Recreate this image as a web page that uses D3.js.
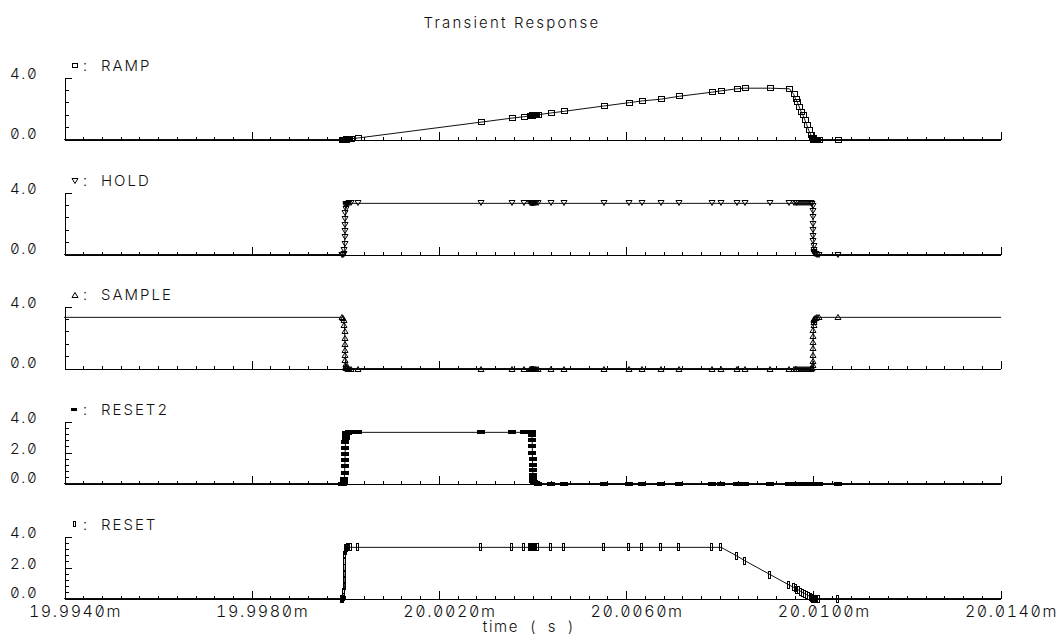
<!DOCTYPE html>
<html lang="en">

<head>
    <meta charset="utf-8">
    <title>Transient Response</title>
    <script type="text/javascript" src="https://cdn.jsdelivr.net/npm/d3@7"></script>
    <style type="text/css">
        body {
            margin: 0;
            background: #fff;
        }

        text {
            font-family: Inter, "DejaVu Sans", sans-serif;
            font-weight: 300;
            font-variant-numeric: slashed-zero tabular-nums;
            fill: #111;
        }
    </style>
</head>

<body>
    <script type="text/javascript">

        var w = 1057;
        var h = 642;

        // simulation time points (ms)
        var time = [
            19.9935,
            19.99994, 19.99996, 19.99997, 19.99998, 19.999985, 19.99999, 19.999993, 19.999996, 20.0,
            20.000003, 20.000006, 20.00001, 20.000015, 20.00002, 20.00003, 20.00005, 20.00008, 20.00012,
            20.00028, 20.0029, 20.00356, 20.00382,
            20.00394, 20.00396, 20.00398, 20.003985, 20.00399, 20.003993, 20.003996, 20.003998, 20.004,
            20.004003, 20.004006, 20.00401, 20.004015, 20.00402, 20.00403, 20.00405, 20.00408, 20.00412,
            20.00439, 20.00468, 20.00552, 20.00607, 20.00635, 20.00674, 20.00714, 20.00783, 20.00803,
            20.00837, 20.00853, 20.00908, 20.00949,
            20.00958, 20.00962, 20.00966, 20.0097, 20.00974, 20.00978, 20.00982, 20.00986, 20.0099, 20.00995,
            20.00998, 20.009985, 20.00999, 20.009993, 20.009996, 20.009998, 20.01,
            20.010003, 20.010006, 20.01001, 20.010015, 20.01002, 20.01003, 20.01005, 20.01008, 20.01012,
            20.01053, 20.0145
        ];

        var ramp = [
            0,
            0, 0, 0, 0, 0, 0, 0, 0, 0,
            0, 0, 0, 0.01, 0.01, 0.01, 0.02, 0.03, 0.05,
            0.10, 1.12, 1.38, 1.47,
            1.53, 1.53, 1.54, 1.54, 1.54, 1.54, 1.55, 1.55, 1.55,
            1.55, 1.55, 1.55, 1.56, 1.56, 1.56, 1.57, 1.58, 1.60,
            1.71, 1.82, 2.16, 2.38, 2.49, 2.60, 2.79, 3.05, 3.14,
            3.27, 3.31, 3.31, 3.27,
            2.92, 2.62, 2.40, 2.10, 1.80, 1.55, 1.25, 0.95, 0.60, 0.28,
            0.12, 0.08, 0.05, 0.03, 0.02, 0.01, 0,
            0, 0, 0, 0, 0, 0, 0, 0, 0,
            0, 0
        ];

        var hold = [
            0,
            0, 0, 0.05, 0.3, 0.7, 1.1, 1.5, 1.9, 2.3,
            2.7, 2.95, 3.1, 3.2, 3.25, 3.28, 3.29, 3.3, 3.3,
            3.3, 3.3, 3.3, 3.3,
            3.3, 3.3, 3.3, 3.3, 3.3, 3.3, 3.3, 3.3, 3.3,
            3.3, 3.3, 3.3, 3.3, 3.3, 3.3, 3.3, 3.3, 3.3,
            3.3, 3.3, 3.3, 3.3, 3.3, 3.3, 3.3, 3.3, 3.3,
            3.3, 3.3, 3.3, 3.3,
            3.3, 3.3, 3.3, 3.3, 3.3, 3.3, 3.3, 3.3, 3.3, 3.3,
            3.28, 3.1, 2.8, 2.4, 2.0, 1.6, 1.2,
            0.85, 0.55, 0.3, 0.15, 0.07, 0.03, 0.01, 0, 0,
            0, 0
        ];

        var sample = [
            3.3,
            3.3, 3.28, 3.1, 2.8, 2.4, 2.0, 1.6, 1.2, 0.85,
            0.55, 0.3, 0.15, 0.07, 0.03, 0.01, 0, 0, 0,
            0, 0, 0, 0,
            0, 0, 0, 0, 0, 0, 0, 0, 0,
            0, 0, 0, 0, 0, 0, 0, 0, 0,
            0, 0, 0, 0, 0, 0, 0, 0, 0,
            0, 0, 0, 0,
            0, 0, 0, 0, 0, 0, 0, 0, 0, 0,
            0.02, 0.2, 0.5, 0.9, 1.3, 1.7, 2.1,
            2.5, 2.8, 3.0, 3.15, 3.22, 3.26, 3.28, 3.3, 3.3,
            3.3, 3.3
        ];

        var reset2 = [
            0,
            0, 0, 0.05, 0.3, 0.7, 1.1, 1.5, 1.9, 2.3,
            2.7, 2.95, 3.1, 3.2, 3.25, 3.28, 3.29, 3.3, 3.3,
            3.3, 3.3, 3.3, 3.3,
            3.3, 3.3, 3.3, 3.28, 3.1, 2.8, 2.4, 2.0, 1.6,
            1.2, 0.85, 0.55, 0.3, 0.15, 0.07, 0.03, 0.01, 0,
            0, 0, 0, 0, 0, 0, 0, 0, 0,
            0, 0, 0, 0,
            0, 0, 0, 0, 0, 0, 0, 0, 0, 0,
            0, 0, 0, 0, 0, 0, 0,
            0, 0, 0, 0, 0, 0, 0, 0, 0,
            0, 0
        ];

        var reset = [
            0,
            0, 0, 0.1, 0.4, 0.8, 1.2, 1.6, 2.0, 2.4,
            2.8, 3.05, 3.2, 3.26, 3.28, 3.29, 3.3, 3.3, 3.3,
            3.3, 3.3, 3.3, 3.3,
            3.3, 3.3, 3.3, 3.3, 3.3, 3.3, 3.3, 3.3, 3.3,
            3.3, 3.3, 3.3, 3.3, 3.3, 3.3, 3.3, 3.3, 3.3,
            3.3, 3.3, 3.3, 3.3, 3.3, 3.3, 3.3, 3.3, 3.3,
            2.74, 2.45, 1.54, 0.86,
            0.72, 0.65, 0.58, 0.52, 0.45, 0.38, 0.32, 0.25, 0.18, 0.10,
            0.05, 0.04, 0.03, 0.02, 0.01, 0.005, 0,
            0, 0, 0, 0, 0, 0, 0, 0, 0,
            0, 0
        ];

        var names = ["RAMP", "HOLD", "SAMPLE", "RESET2", "RESET"];
        var markers = ["square", "down", "up", "hbar", "vbar"];
        var series = [ramp, hold, sample, reset2, reset];

        // y axis ticks per panel
        var yTicksA = [0, 0.8, 1.6, 2.4, 3.2, 4.0];
        var yTicksB = [0, 0.4, 0.8, 1.2, 1.6, 2.0, 2.4, 2.8, 3.2, 3.6, 4.0];
        var yLabelsA = [4.0, 0.0];
        var yLabelsB = [4.0, 2.0, 0.0];

        var xMajor = [19.994, 19.998, 20.002, 20.006, 20.010, 20.014];
        var xLabels = ["19.9940m", "19.9980m", "20.0020m", "20.0060m", "20.0100m", "20.0140m"];

        var xScale = d3.scaleLinear()
            .domain([19.994, 20.014])
            .range([64.5, 1000.5]);

        var xMinor = d3.range(0, 51).map(function (i) { return 19.994 + i * 0.0004; });

        var svg = d3.select("body")
            .append("svg")
            .attr("width", w)
            .attr("height", h);

        svg.append("text")
            .attr("x", 512)
            .attr("y", 28)
            .attr("text-anchor", "middle")
            .attr("font-size", "15px")
            .attr("letter-spacing", "2.2px")
            .text("Transient Response");

        //draws one marker shape at a point, snapped to the pixel grid
        function drawMarker(g, type, cx, cy, legend) {
            cx = Math.round(cx);
            cy = Math.round(cy);
            if (type == "square") {
                g.append("rect")
                    .attr("x", cx - 2.5).attr("y", cy - 2.5)
                    .attr("width", legend ? 5 : 6).attr("height", legend ? 4 : 5)
                    .attr("fill", "none").attr("stroke", "#000");
            } else if (type == "down" || type == "up") {
                var s = type == "down" ? 1 : -1;
                g.append("path")
                    .attr("d", "M" + (cx - 3) + "," + (cy - 2.5 * s) +
                        "L" + (cx + 3) + "," + (cy - 2.5 * s) +
                        "L" + cx + "," + (cy + 2.5 * s) + "Z")
                    .attr("fill", "none").attr("stroke", "#000");
            } else if (type == "hbar") {
                g.append("rect")
                    .attr("x", cx - 4).attr("y", cy - 2)
                    .attr("width", legend ? 6 : 8).attr("height", legend ? 3 : 4)
                    .attr("fill", "#000")
                    .attr("shape-rendering", "crispEdges");
            } else {
                g.append("rect")
                    .attr("x", cx - 1.5).attr("y", cy - 3.5)
                    .attr("width", 2).attr("height", legend ? 5 : 7)
                    .attr("fill", "none").attr("stroke", "#000")
                    .attr("shape-rendering", "crispEdges");
            }
        }

        names.forEach(function (name, i) {
            var bottom = Math.floor(139.3 + i * 114.75) + 0.5;
            var top = bottom - 62;
            var wide = i >= 3;

            var yScale = d3.scaleLinear()
                .domain([0, 4])
                .range([bottom, top]);

            var g = svg.append("g");

            g.append("clipPath")
                .attr("id", "clip" + i)
                .append("rect")
                .attr("x", 64)
                .attr("y", top - 12)
                .attr("width", 937)
                .attr("height", 86);

            //x axis, ticks pointing up
            g.append("g")
                .attr("transform", "translate(0," + bottom + ")")
                .call(d3.axisTop(xScale).tickValues(xMinor).tickSize(3).tickSizeOuter(0).tickFormat(""))
                .call(function (a) { a.select(".domain").remove(); });
            g.append("g")
                .attr("transform", "translate(0," + bottom + ")")
                .call(d3.axisTop(xScale).tickValues(xMajor.slice(1)).tickSize(8).tickSizeOuter(0).tickFormat(""));

            //y axis, ticks pointing right
            g.append("g")
                .attr("transform", "translate(64.5,0)")
                .call(d3.axisRight(yScale).tickValues(wide ? yTicksB : yTicksA).tickSize(4).tickSizeOuter(7).tickFormat(""));
            if (wide) {
                g.append("g")
                    .attr("transform", "translate(64.5,0)")
                    .call(d3.axisRight(yScale).tickValues([2.0]).tickSize(7).tickFormat(""))
                    .call(function (a) { a.select(".domain").remove(); });
            }

            g.selectAll(".domain, .tick line")
                .attr("stroke", "#000")
                .attr("shape-rendering", "crispEdges");

            //y labels
            g.selectAll("text.ylab")
                .data(wide ? yLabelsB : yLabelsA)
                .enter()
                .append("text")
                .attr("class", "ylab")
                .attr("x", 10)
                .attr("y", function (d) { return yScale(d) + (d == 0 ? -1 : 1.5); })
                .attr("font-size", "15px")
                .attr("letter-spacing", "1.6px")
                .text(function (d) { return d.toFixed(1); });

            //series label
            drawMarker(g, markers[i], 74.5, top - 12, true);
            g.append("text")
                .attr("x", 83)
                .attr("y", top - 7)
                .attr("font-size", "15px")
                .text(":");
            g.append("text")
                .attr("x", 101)
                .attr("y", top - 7)
                .attr("font-size", "15px")
                .attr("letter-spacing", "2px")
                .text(name);

            var values = series[i];
            var plot = g.append("g").attr("clip-path", "url(#clip" + i + ")");

            var line = d3.line()
                .x(function (d, k) { return xScale(time[k]); })
                .y(function (d) { return yScale(d); });

            plot.append("path")
                .datum(values)
                .attr("d", line)
                .attr("fill", "none")
                .attr("stroke", "#111")
                .attr("stroke-width", 1);

            var mg = plot.append("g");
            values.forEach(function (v, k) {
                if (time[k] > 19.994 && time[k] < 20.014) {
                    drawMarker(mg, markers[i], xScale(time[k]), yScale(v), false);
                }
            });

            //x tick labels on the last panel
            if (i == names.length - 1) {
                g.selectAll("text.xlab")
                    .data(xMajor)
                    .enter()
                    .append("text")
                    .attr("class", "xlab")
                    .attr("x", function (d) { return xScale(d) + 11; })
                    .attr("y", 617)
                    .attr("text-anchor", "middle")
                    .attr("font-size", "16px")
                    .attr("letter-spacing", "1.6px")
                    .text(function (d, k) { return xLabels[k]; });

                g.append("text")
                    .attr("x", 529)
                    .attr("y", 632)
                    .attr("text-anchor", "middle")
                    .attr("font-size", "15px")
                    .attr("letter-spacing", "1.6px")
                    .attr("word-spacing", "5px")
                    .text("time ( s )");
            }
        });

    </script>
</body>

</html>
